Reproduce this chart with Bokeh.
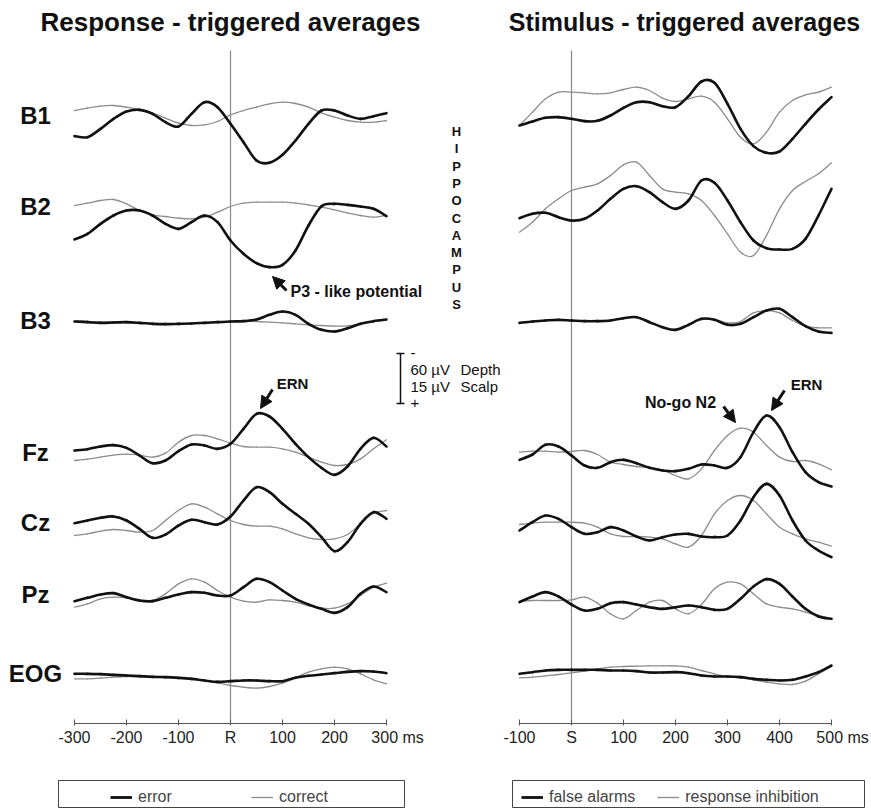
from bokeh.plotting import figure
from bokeh.layouts import row, column
from bokeh.models import (Range1d, LinearAxis, FixedTicker, Label, Arrow, NormalHead,
                          Legend, LegendItem)
from bokeh.core.properties import value
from bokeh.embed import file_html
from bokeh.resources import INLINE

FONT = "Liberation Sans"

# ---------------- data ----------------
t_resp = [-300, -275, -250, -225, -200, -175, -150, -125, -100, -75, -50, -25, 0,
          25, 50, 75, 100, 125, 150, 175, 200, 225, 250, 275, 300]
t_stim = [-100, -75, -50, -25, 0, 25, 50, 75, 100, 125, 150, 175, 200,
          225, 250, 275, 300, 325, 350, 375, 400, 425, 450, 475, 500]

channels = ["B1", "B2", "B3", "Fz", "Cz", "Pz", "EOG"]
depth_channels = ["B1", "B2", "B3"]

resp_ticks = [-300, -200, -100, 0, 100, 200, 300]
stim_ticks = [-100, 0, 100, 200, 300, 400, 500]

# response-triggered averages (µV, negative up)
resp_err_B1 = [24.8, 26, 16, 4, -4.8, -6.8, -2, 8, 13.2, -2, -16, -10, 10, 32, 54, 56.8, 47.2, 30, 10, -6, -6, 0, 4, 0.8, -2.8]
resp_cor_B1 = [-6, -8.8, -11.2, -12, -10, -7.2, -3.2, 3.2, 9.2, 12, 11.2, 7.2, -0.8, -6, -10, -14, -16, -14.4, -10, -3.2, 2, 6, 8, 8, 6]
resp_err_B2 = [39.6, 32.8, 20.8, 10.8, 4.8, 4.8, 10.8, 20.8, 26.8, 18.8, 10.8, 18.8, 40.8, 56.8, 68, 72.8, 70, 52.8, 22.8, -0.4, -3.2, -2, 0, 2.8, 11.6]
resp_cor_B2 = [-1.2, -4, -7.2, -8.4, -3.2, 4.8, 10, 12, 14, 14.8, 12.8, 6.8, 0, -4, -5.2, -5.2, -5.2, -4, -2, 0.8, 4, 7.6, 10.8, 12.8, 10.8]
resp_err_B3 = [1.2, 2, 2.8, 2.4, 2, 2.8, 4, 4.4, 4, 3.6, 2.8, 2, 1.2, 0.8, -1.2, -6.8, -10.8, -6.8, 4, 11.2, 13.2, 9.2, 4, 0.8, -1.2]
resp_cor_B3 = [0.4, 1.2, 2, 2.4, 2.4, 2.8, 3.6, 4, 4, 3.6, 2.8, 2, 1.2, 0.8, 1.2, 2, 2.8, 4, 5.2, 6, 6.8, 6.4, 4, 1.2, -0.4]
resp_err_Fz = [-0.6, -1, -1.8, -2.2, -1.4, 0.9, 3.2, 2.4, -0.4, -2.4, -2.1, -1.1, -2.6, -7.1, -11.6, -10.8, -7.1, -2.6, 1.4, 4.6, 6.7, 4.2, -1.1, -4.4, -1.8]
resp_cor_Fz = [2.4, 2, 1.4, 0.8, 0.5, 0.8, 1.4, 0.2, -3.1, -5.1, -5.1, -4.1, -2.8, -1.8, -1.6, -1.6, -1.1, -0.1, 1.4, 2.9, 3.9, 3.6, 1.9, -1.1, -3.8]
resp_err_Cz = [0.2, -0.6, -1.4, -1.8, -0.6, 1.9, 4.6, 3.6, 0.9, -0.8, -0.1, 0.6, -1.8, -6.6, -10.6, -9.1, -5.6, -2.6, 0.4, 4.4, 8.6, 5.9, 0.4, -3.1, -1.1]
resp_cor_Cz = [3.9, 3.4, 2.6, 2.1, 2.4, 2.9, 2.4, -0.6, -3.6, -5.6, -4.6, -2.6, -0.6, 0.6, 1.1, 1.1, 1.9, 3.4, 4.6, 5.1, 4.9, 3.6, 0.4, -2.8, -3.6]
resp_err_Pz = [2, 1, 0, -0.4, 0.8, 1.8, 2, 1, 0, -0.7, -0.5, 0.3, 0.3, -2.2, -4.7, -3.7, -1.2, 1.3, 3, 4.3, 5.5, 3.8, -0.2, -2.4, -0.7]
resp_cor_Pz = [3.8, 2.8, 1.3, 0.8, 1, 1.8, 1.8, -0.2, -3.2, -4.7, -3.7, -1.2, 0.8, 2, 2.3, 1.6, 1.8, 2.3, 3.3, 4.1, 4.1, 2.8, 0.3, -2.2, -3.4]
resp_err_EOG = [0.1, 0.1, 0.2, 0.4, 0.6, 0.8, 1, 1.1, 1.3, 1.6, 2.1, 2.5, 2.3, 2.1, 2.1, 2.3, 2.3, 1.3, 0.7, 0.3, -0.1, -0.5, -0.7, -0.6, -0.1]
resp_cor_EOG = [1.6, 1.6, 1.4, 1.1, 0.9, 0.9, 1.1, 1.2, 1.3, 1.6, 2.1, 2.8, 3.6, 4.1, 4.4, 3.9, 2.9, 1.3, -0.4, -1.4, -1.9, -1.4, 0.1, 1.9, 3.1]

# stimulus-triggered averages (µV, negative up)
stim_fa_B1 = [12, 7.2, 2.8, 2, 4, 6.8, 6.4, 0, -9.2, -16, -16, -11.2, -10, -23.2, -40.8, -39.2, -14, 16, 36.8, 44.8, 43.2, 28, 10, -7.2, -22]
stim_ri_B1 = [12, -4, -20, -28, -28, -27.2, -26, -27.2, -31.2, -34, -30, -20.8, -16.8, -20, -23.2, -16, 4, 26, 34, 20, -4, -18, -24.8, -28, -34]
stim_fa_B2 = [14, 8.8, 7.6, 12.8, 16.8, 14.8, 4.8, -9.2, -21.2, -24.4, -17.2, -5.2, 2.8, -7.2, -31.2, -28.4, -7.2, 18.8, 40.8, 50, 51.6, 50.8, 38.8, 10.8, -21.2]
stim_ri_B2 = [30.8, 18.8, 2.8, -9.2, -19.2, -23.2, -27.2, -37.2, -50, -53.2, -37.2, -21.2, -17.2, -15.2, -7.2, 10.8, 32.8, 54.8, 58.8, 34.8, 2.8, -19.2, -30, -39.2, -52.4]
stim_fa_B3 = [2.8, 1.2, 0, -0.8, 0, 0.8, 0.8, 0, -2.8, -4, 2, 8, 11.2, 5.2, -2, -0.8, 5.2, 4, -4, -12, -14, -4, 6.8, 13.2, 14.8]
stim_ri_B3 = [2.8, 1.2, 0, -0.8, 0, 0.8, 0.8, 0, -2.8, -4, 2, 8, 11.2, 5.2, -1.2, -1.2, 2.8, 1.2, -9.2, -12, -9.2, 0, 6.8, 8.8, 8.8]
stim_fa_Fz = [2.2, 0.6, -2.3, -1.8, 0.9, 3.9, 4.6, 2.9, 2.2, 3.2, 4.6, 5.4, 5.6, 4.9, 3.6, 3.9, 4.6, 1.4, -6.1, -11.1, -7.6, -0.1, 5.9, 8.9, 10.2]
stim_ri_Fz = [-0.1, -0.4, -0.4, -0.1, -0.3, -0.6, 0.6, 2.9, 3.6, 4.2, 4.6, 5.2, 6.9, 7.9, 4.9, -0.6, -5.1, -7.3, -6.1, -2.1, 1.4, 2.7, 2.4, 3.4, 5.2]
stim_fa_Cz = [2.4, -0.1, -2.1, -1.1, 1.4, 3.4, 2.9, 1.4, 2.4, 4.2, 5.4, 4.4, 3.6, 3.4, 4.2, 4.4, 3.9, -0.6, -7.6, -11.6, -8.1, -0.6, 5.4, 8.4, 10.4]
stim_ri_Cz = [0.6, 0.2, -0.1, -0.1, -0.1, 0.2, 1.4, 3.4, 4.2, 4.2, 4.4, 4.9, 6.4, 7.4, 3.9, -2.6, -6.6, -8.1, -6.6, -2.6, 1.4, 3.4, 4.9, 5.9, 7.1]
stim_fa_Pz = [2.3, 0.6, -0.7, 0.6, 3, 4.8, 4.3, 2.6, 2.3, 3, 3.8, 4.3, 3.8, 3.3, 3.8, 4.6, 4.3, 1.3, -2.4, -4.6, -3.2, 0.6, 4.3, 6.6, 7.3]
stim_ri_Pz = [2, 1.8, 1.8, 1.8, 1.6, 0.8, 2.6, 5.8, 7.3, 4.8, 2.3, 1.8, 4.3, 5.8, 3, -1.7, -3.7, -3.2, -0.2, 2.8, 3.8, 4.3, 5.3, 6.3, 7.3]
stim_fa_EOG = [0.1, -0.4, -0.9, -1.1, -1.1, -1.1, -1.1, -0.9, -0.9, -0.7, -0.3, -0.3, -0.4, -0.1, 0.6, 0.9, 0.9, 1.1, 1.6, 1.9, 2.1, 1.9, 0.9, -0.4, -2.4]
stim_ri_EOG = [1.3, 1.1, 0.7, 0.3, -0.2, -0.7, -1.4, -1.9, -2.1, -2.2, -2.3, -2.3, -2.3, -1.9, -0.9, 0.1, 0.9, 1.3, 1.9, 2.6, 3.1, 3.3, 2.3, 0.1, -2.1]

resp_error = {"B1": resp_err_B1, "B2": resp_err_B2, "B3": resp_err_B3, "Fz": resp_err_Fz,
              "Cz": resp_err_Cz, "Pz": resp_err_Pz, "EOG": resp_err_EOG}
resp_correct = {"B1": resp_cor_B1, "B2": resp_cor_B2, "B3": resp_cor_B3, "Fz": resp_cor_Fz,
                "Cz": resp_cor_Cz, "Pz": resp_cor_Pz, "EOG": resp_cor_EOG}
stim_fa = {"B1": stim_fa_B1, "B2": stim_fa_B2, "B3": stim_fa_B3, "Fz": stim_fa_Fz,
           "Cz": stim_fa_Cz, "Pz": stim_fa_Pz, "EOG": stim_fa_EOG}
stim_ri = {"B1": stim_ri_B1, "B2": stim_ri_B2, "B3": stim_ri_B3, "Fz": stim_ri_Fz,
           "Cz": stim_ri_Cz, "Pz": stim_ri_Pz, "EOG": stim_ri_EOG}

# ---------------- layout ----------------
ROW_Y = {"B1": 115, "B2": 206, "B3": 320, "Fz": 452, "Cz": 522, "Pz": 594, "EOG": 673}
BAR_PX = 50.0
DEPTH_K = BAR_PX / 60.0   # 60 µV depth
SCALP_K = BAR_PX / 15.0   # 15 µV scalp
FRAME_BOTTOM = 723
AXIS_H = 27
LEG_H = 809 - FRAME_BOTTOM - AXIS_H
PX_PER_MS = 0.52
SPLIT = 501
W1, W2 = SPLIT, 871 - SPLIT
L_START = -300 - 74 / PX_PER_MS
L_END = L_START + W1 / PX_PER_MS
R_START = -100 - (519 - SPLIT) / PX_PER_MS
R_END = R_START + W2 / PX_PER_MS
NBSP = "\u00a0"


def lx(px):
    return L_START + px / PX_PER_MS


def rx(px):
    return R_START + (px - SPLIT) / PX_PER_MS


THICK = "#111111"
THIN = "#8c8c8c"


def make_fig(width, height, xr, yr, bottom):
    p = figure(width=width, height=height, x_range=xr, y_range=yr, output_backend="svg",
               toolbar_location=None, x_axis_location=None, y_axis_location=None,
               min_border_left=0, min_border_right=0, min_border_top=0,
               min_border_bottom=bottom)
    p.outline_line_color = None
    p.grid.visible = False
    p.background_fill_color = "white"
    p.border_fill_color = "white"
    return p


def smooth_curve(p, xs, ys, color, width):
    """Draw a series as a smooth curve passing through every read point."""
    n = len(xs)
    x0, y0, x1, y1, cx0, cy0, cx1, cy1 = [], [], [], [], [], [], [], []
    for i in range(n - 1):
        xa, ya = xs[max(i - 1, 0)], ys[max(i - 1, 0)]
        xb, yb = xs[i], ys[i]
        xc, yc = xs[i + 1], ys[i + 1]
        xd, yd = xs[min(i + 2, n - 1)], ys[min(i + 2, n - 1)]
        x0.append(xb); y0.append(yb); x1.append(xc); y1.append(yc)
        cx0.append(xb + (xc - xa) / 6.0); cy0.append(yb + (yc - ya) / 6.0)
        cx1.append(xc - (xd - xb) / 6.0); cy1.append(yc - (yd - yb) / 6.0)
    p.bezier(x0=x0, y0=y0, x1=x1, y1=y1, cx0=cx0, cy0=cy0, cx1=cx1, cy1=cy1,
             line_color=color, line_width=width, line_cap="round")


def draw_traces(p, t, thick_d, thin_d):
    for ch in channels:
        k = DEPTH_K if ch in depth_channels else SCALP_K
        y0 = ROW_Y[ch]
        smooth_curve(p, t, [y0 + v * k for v in thin_d[ch]], THIN, 1.3)
        smooth_curve(p, t, [y0 + v * k for v in thick_d[ch]], THICK, 2.6)


def add_axis(p, ticks, zero_label):
    overrides = {tk: str(tk) for tk in ticks}
    overrides[0] = zero_label
    overrides[ticks[-1]] = NBSP * 5 + str(ticks[-1]) + " ms"
    ax = LinearAxis(bounds=(ticks[0], ticks[-1]), ticker=FixedTicker(ticks=ticks),
                    major_label_overrides=overrides)
    ax.axis_line_color = "#555555"
    ax.major_tick_line_color = "#555555"
    ax.minor_tick_line_color = None
    ax.major_tick_in = 4
    ax.major_tick_out = 2
    ax.major_label_standoff = 3
    ax.major_label_text_font = FONT
    ax.major_label_text_font_size = "16px"
    ax.major_label_text_color = "#222222"
    p.add_layout(ax, "below")


def bold_label(p, x, y, text, size, align="center"):
    p.add_layout(Label(x=x, y=y, text=text, text_font=FONT, text_font_style="bold",
                       text_font_size=size, text_align=align, text_baseline="middle",
                       text_color="#111111"))


def arrow(p, x0, y0, x1, y1):
    p.add_layout(Arrow(end=NormalHead(size=12, fill_color="#111111", line_color="#111111"),
                       x_start=x0, y_start=y0, x_end=x1, y_end=y1,
                       line_color="#111111", line_width=3))


# ---------------- left panel ----------------
p1 = make_fig(W1, FRAME_BOTTOM + AXIS_H, Range1d(L_START, L_END), Range1d(FRAME_BOTTOM, 0), AXIS_H)
p1.segment(x0=[0], y0=[50], x1=[0], y1=[FRAME_BOTTOM], line_color="#888888", line_width=1.2)
draw_traces(p1, t_resp, resp_error, resp_correct)
p1.text(x=[lx(35)] * len(channels), y=[ROW_Y[c] for c in channels], text=channels,
        text_font=value(FONT), text_font_style="bold", text_font_size="24px",
        text_align="center", text_baseline="middle", text_color="#111111")
bold_label(p1, 0, 21, "Response - triggered averages", "26px")

letters = list("HIPPOCAMPUS")
p1.text(x=[lx(456)] * len(letters), y=[131 + i * 17.3 for i in range(len(letters))],
        text=letters, text_font=value(FONT), text_font_style="bold", text_font_size="13px",
        text_align="center", text_baseline="middle", text_color="#111111")

# scale bar
bx = lx(400)
p1.segment(x0=[bx, lx(396), lx(396)], y0=[353, 353, 353 + BAR_PX],
           x1=[bx, lx(404), lx(404)], y1=[353 + BAR_PX, 353, 353 + BAR_PX],
           line_color="#111111", line_width=1.5)
for txt, yy, xx in [("-", 352, 410), ("60 µV", 369, 410), ("Depth", 369, 460),
                    ("15 µV", 386, 410), ("Scalp", 386, 460), ("+", 402, 410)]:
    p1.add_layout(Label(x=lx(xx), y=yy, text=txt, text_font=FONT, text_font_size="15px",
                        text_align="left", text_baseline="middle", text_color="#111111"))

bold_label(p1, lx(290), 291, "P3 - like potential", "16px", align="left")
arrow(p1, lx(286), 290, lx(272), 276)
bold_label(p1, lx(292), 383, "ERN", "15px")
arrow(p1, lx(272), 389, lx(260), 408)

add_axis(p1, resp_ticks, "R")

# ---------------- right panel ----------------
p2 = make_fig(W2, FRAME_BOTTOM + AXIS_H, Range1d(R_START, R_END), Range1d(FRAME_BOTTOM, 0), AXIS_H)
p2.segment(x0=[0], y0=[50], x1=[0], y1=[FRAME_BOTTOM], line_color="#888888", line_width=1.2)
draw_traces(p2, t_stim, stim_fa, stim_ri)
bold_label(p2, rx(684), 21, "Stimulus - triggered averages", "25px")

bold_label(p2, rx(806), 384, "ERN", "15px")
arrow(p2, rx(784), 390, rx(771), 410)
bold_label(p2, rx(680), 402, "No-go N2", "16px")
arrow(p2, rx(723), 406, rx(735), 422)

add_axis(p2, stim_ticks, "S")

# ---------------- legends ----------------
pl = make_fig(871, LEG_H, Range1d(0, 871), Range1d(0, LEG_H), 0)
nan = float("nan")
k_err = pl.line([0, 1], [nan, nan], line_color=THICK, line_width=2.8)
k_cor = pl.line([0, 1], [nan, nan], line_color=THIN, line_width=1.3)
k_fa = pl.line([0, 1], [nan, nan], line_color=THICK, line_width=2.8)
k_ri = pl.line([0, 1], [nan, nan], line_color=THIN, line_width=1.3)

# legend frames (boxes around each legend)
pl.quad(left=[58, 512], right=[404, 864], bottom=[2, 2], top=[29, 29],
        fill_color=None, line_color="#444444", line_width=1)


def add_legend(p, items, x_px, label_w, spacing):
    leg = Legend(items=items, orientation="horizontal", location=(x_px, 3),
                 margin=0, padding=2, spacing=spacing, glyph_width=22, glyph_height=18,
                 label_standoff=6, label_width=label_w, label_text_font=FONT,
                 label_text_font_size="16px", border_line_color=None,
                 background_fill_alpha=0.0)
    p.add_layout(leg)


add_legend(pl, [LegendItem(label="error", renderers=[k_err]),
                LegendItem(label="correct", renderers=[k_cor])], 110, 60, 53)
add_legend(pl, [LegendItem(label="false alarms", renderers=[k_fa]),
                LegendItem(label="response inhibition", renderers=[k_ri])], 521, 86, 22)

layout = column(row(p1, p2), pl)
open("out.html", "w").write(file_html(layout, INLINE))
